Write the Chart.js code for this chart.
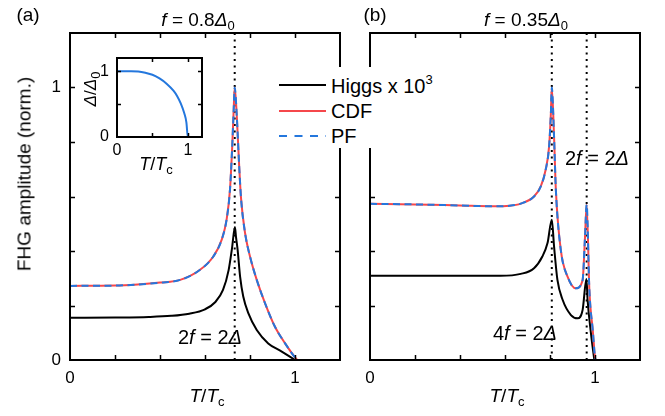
<!DOCTYPE html>
<html>
<head>
<meta charset="utf-8">
<script src="https://cdn.jsdelivr.net/npm/chart.js@4.4.1/dist/chart.umd.min.js"></script>
<style>
  body { margin: 0; background: #fff; }
  #fig { position: relative; width: 665px; height: 416px; overflow: hidden; font-family: "Liberation Sans", Arial, sans-serif; color: #000; }
  #fig canvas { position: absolute; left: 0; top: 0; }
  .txt { position: absolute; transform: translate(-50%, -50%); white-space: nowrap; font-size: 19px; line-height: 1; }
  .esq { transform: translate(0, -50%); }
  .rot { transform: translate(-50%, -50%) rotate(-90deg); }
  .txt sub { font-size: 13px; vertical-align: -4px; line-height: 0; }
  .txt sup { font-size: 13px; vertical-align: 9px; line-height: 0; }
  #legenda { position: absolute; left: 272px; top: 67px; width: 175px; height: 81px; background: #fff; }
</style>
</head>
<body>
<div id="fig">
  <canvas id="painelA" width="665" height="416"></canvas>
  <canvas id="painelB" width="665" height="416"></canvas>
  <canvas id="inset" width="665" height="416"></canvas>

  <div id="legenda"></div>
  <svg style="position:absolute;left:0;top:0" width="665" height="416">
    <line x1="279" y1="85" x2="326" y2="85" stroke="#000" stroke-width="2"/>
    <line x1="279" y1="111" x2="326" y2="111" stroke="#f5474b" stroke-width="2"/>
    <line x1="279" y1="136" x2="326" y2="136" stroke="#2477dd" stroke-width="2" stroke-dasharray="8 7.5"/>
  </svg>
  <div class="txt esq" style="left:331px;top:86px;font-size:20px">Higgs x 10<sup>3</sup></div>
  <div class="txt esq" style="left:331px;top:111px;font-size:20px">CDF</div>
  <div class="txt esq" style="left:331px;top:136px;font-size:20px">PF</div>

  <div class="txt" style="left:28px;top:14px">(a)</div>
  <div class="txt" style="left:198px;top:19px"><i>f</i> = 0.8<i>Δ</i><sub>0</sub></div>
  <div class="txt" style="left:375px;top:14px">(b)</div>
  <div class="txt" style="left:526px;top:19px"><i>f</i> = 0.35<i>Δ</i><sub>0</sub></div>

  <div class="txt rot" style="left:24px;top:174px">FHG amplitude (norm.)</div>

  <div class="txt" style="left:210px;top:337px;font-size:20px">2<i>f</i> = 2<i>Δ</i></div>
  <div class="txt" style="left:525px;top:333px;font-size:20px">4<i>f</i> = 2<i>Δ</i></div>
  <div class="txt" style="left:597px;top:158px;font-size:20px">2<i>f</i> = 2<i>Δ</i></div>

  <div class="txt" style="left:207px;top:395px"><i>T</i>/<i>T</i><sub>c</sub></div>
  <div class="txt" style="left:507px;top:395px"><i>T</i>/<i>T</i><sub>c</sub></div>

  <div class="txt" style="left:156px;top:164px;font-size:18px"><i>T</i>/<i>T</i><sub>c</sub></div>
  <div class="txt rot" style="left:90px;top:89px;font-size:17px"><i>Δ</i>/<i>Δ</i><sub>0</sub></div>
</div>

<script>
// painel (a): f = 0.8 Δ0
const tHiggsA = [0, 0.2, 0.35, 0.45, 0.53, 0.6, 0.645, 0.68, 0.705, 0.72, 0.733, 0.738, 0.745, 0.756, 0.77, 0.793, 0.83, 0.881, 0.941, 1.0];
const higgsA = [0.155, 0.156, 0.158, 0.162, 0.17, 0.186, 0.212, 0.257, 0.33, 0.41, 0.488, 0.45, 0.404, 0.306, 0.233, 0.171, 0.11, 0.061, 0.031, 0];
const tCdfA = [0, 0.2, 0.3, 0.4, 0.49, 0.578, 0.637, 0.674, 0.696, 0.711, 0.721, 0.727, 0.732, 0.741, 0.752, 0.76, 0.778, 0.8, 0.83, 0.867, 0.911, 0.956, 1.0, 1.012, 1.08];
const cdfA = [0.272, 0.273, 0.277, 0.284, 0.294, 0.331, 0.38, 0.441, 0.515, 0.625, 0.784, 0.907, 1.0, 0.9, 0.71, 0.595, 0.466, 0.38, 0.294, 0.208, 0.122, 0.061, 0.01, 0, 0];
const pfA = cdfA;
const linhasA = [0.732];

// painel (b): f = 0.35 Δ0
const tHiggsB = [0, 0.3, 0.58, 0.67, 0.729, 0.766, 0.789, 0.808, 0.818, 0.833, 0.856, 0.893, 0.923, 0.945, 0.962, 0.967, 0.982, 0.997];
const higgsB = [0.309, 0.309, 0.309, 0.316, 0.337, 0.38, 0.429, 0.515, 0.417, 0.294, 0.221, 0.165, 0.153, 0.184, 0.297, 0.221, 0.098, 0];
const tCdfB = [0, 0.2, 0.4, 0.55, 0.62, 0.67, 0.729, 0.759, 0.781, 0.796, 0.804, 0.808, 0.818, 0.826, 0.848, 0.878, 0.915, 0.945, 0.955, 0.963, 0.975, 0.99, 1.003, 1.08];
const cdfB = [0.573, 0.571, 0.567, 0.564, 0.566, 0.574, 0.6, 0.637, 0.699, 0.784, 0.907, 1.0, 0.82, 0.625, 0.404, 0.306, 0.263, 0.294, 0.441, 0.57, 0.257, 0.11, 0, 0];
const pfB = cdfB;
const linhasB = [0.808, 0.963];

// inset: gap Δ/Δ0
const tGap = [0, 0.2, 0.3, 0.4, 0.5, 0.6, 0.7, 0.8, 0.85, 0.9, 0.95, 0.98, 1.0, 1.07];
const gap = [1, 1, 0.995, 0.975, 0.945, 0.89, 0.81, 0.7, 0.62, 0.51, 0.36, 0.22, 0, 0];

const ticksPainel = [0, 0.2, 0.4, 0.6, 0.8, 1, 1.2];
const ticksInset = [0, 0.5, 1, 1.2];
const rotulosX = [0, 1];
const rotulosY = [0, 1];

const preto = "#000";
const vermelho = "#f5474b";
const azul = "#2477dd";
const fonte = "'Liberation Sans', Arial, sans-serif";

Chart.defaults.font.family = fonte;
Chart.defaults.color = "#000";

function pontos(xs, ys) {
  return xs.map((x, i) => ({ x, y: ys[i] }));
}

function curva(xs, ys, cor, tracejado) {
  return {
    data: pontos(xs, ys),
    borderColor: cor,
    borderWidth: 2,
    borderDash: tracejado ? [7, 4.5] : [],
    pointRadius: 0,
    cubicInterpolationMode: "monotone",
    fill: false
  };
}

function pontilhada(x) {
  return {
    data: [{ x, y: 0 }, { x, y: 1.2 }],
    borderColor: preto,
    borderWidth: 2,
    borderDash: [2, 4.5],
    pointRadius: 0,
    fill: false
  };
}

function rotulo(lista) {
  return v => (lista.some(r => Math.abs(r - v) < 1e-6) ? String(Math.round(v)) : "");
}

// moldura com ticks para dentro nos quatro lados
const moldura = {
  id: "moldura",
  afterDatasetsDraw(chart) {
    const { ctx, chartArea: a, scales } = chart;
    const op = chart.options.plugins.moldura;
    const len = op.tick;
    ctx.save();
    ctx.strokeStyle = preto;
    ctx.lineWidth = 2;
    ctx.strokeRect(a.left, a.top, a.right - a.left, a.bottom - a.top);
    ctx.lineWidth = 1.5;
    ctx.beginPath();
    scales.x.ticks.forEach(t => {
      if (t.value <= scales.x.min || t.value >= scales.x.max) return;
      const px = Math.round(scales.x.getPixelForValue(t.value)) + 0.5;
      ctx.moveTo(px, a.bottom); ctx.lineTo(px, a.bottom - len);
      ctx.moveTo(px, a.top); ctx.lineTo(px, a.top + len);
    });
    scales.y.ticks.forEach(t => {
      if (t.value <= scales.y.min || t.value >= scales.y.max) return;
      const py = Math.round(scales.y.getPixelForValue(t.value)) + 0.5;
      ctx.moveTo(a.left, py); ctx.lineTo(a.left + len, py);
      ctx.moveTo(a.right, py); ctx.lineTo(a.right - len, py);
    });
    ctx.stroke();

    // rótulos do eixo y escritos aqui no inset
    if (op.yTexto) {
      ctx.fillStyle = preto;
      ctx.font = op.fonte + "px " + fonte;
      ctx.textAlign = "right";
      ctx.textBaseline = "middle";
      rotulosY.forEach(v => {
        ctx.fillText(String(v), a.left - op.yPad, scales.y.getPixelForValue(v));
      });
    }
    ctx.restore();
  }
};

function painel(id, area, datasets, cfg) {
  return new Chart(document.getElementById(id), {
    type: "line",
    data: { datasets },
    plugins: [moldura],
    options: {
      responsive: false,
      animation: false,
      events: [],
      layout: {
        padding: {
          left: area.left - cfg.yLarg,
          top: area.top,
          right: 665 - area.right,
          bottom: 416 - area.bottom - cfg.xAlt
        }
      },
      plugins: {
        legend: { display: false },
        tooltip: { enabled: false },
        moldura: { tick: cfg.tick, yTexto: cfg.yTexto, yPad: cfg.yPad, fonte: cfg.fonte }
      },
      scales: {
        x: {
          type: "linear",
          min: 0,
          max: 1.2,
          grid: { display: false, drawTicks: false },
          border: { display: false },
          afterBuildTicks: s => { s.ticks = cfg.ticks.map(v => ({ value: v })); },
          ticks: {
            autoSkip: false,
            maxRotation: 0,
            padding: cfg.xPad,
            font: { size: cfg.fonte },
            callback: rotulo(rotulosX)
          },
          afterFit: s => { s.height = cfg.xAlt; }
        },
        y: {
          min: 0,
          max: 1.2,
          grid: { display: false, drawTicks: false },
          border: { display: false },
          afterBuildTicks: s => { s.ticks = cfg.ticks.map(v => ({ value: v })); },
          ticks: {
            display: cfg.yRotulos,
            autoSkip: false,
            padding: cfg.yPad,
            font: { size: cfg.fonte },
            callback: rotulo(rotulosY)
          },
          afterFit: s => { s.width = cfg.yLarg; }
        }
      }
    }
  });
}

painel("painelA", { left: 70, top: 33, right: 340, bottom: 360 }, [
  curva(tCdfA, pfA, azul, true),
  curva(tCdfA, cdfA, vermelho, false),
  curva(tHiggsA, higgsA, preto, false),
  ...linhasA.map(pontilhada)
], { ticks: ticksPainel, yLarg: 70, xAlt: 56, xPad: 8, yPad: 9, fonte: 17, tick: 5, yRotulos: true, yTexto: false });

painel("painelB", { left: 370, top: 33, right: 640, bottom: 360 }, [
  curva(tCdfB, pfB, azul, true),
  curva(tCdfB, cdfB, vermelho, false),
  curva(tHiggsB, higgsB, preto, false),
  ...linhasB.map(pontilhada)
], { ticks: ticksPainel, yLarg: 0, xAlt: 56, xPad: 8, yPad: 9, fonte: 17, tick: 5, yRotulos: false, yTexto: false });

painel("inset", { left: 117, top: 58, right: 202, bottom: 137 }, [
  curva(tGap, gap, azul, false)
], { ticks: ticksInset, yLarg: 30, xAlt: 22, xPad: 4, yPad: 8, fonte: 16, tick: 4, yRotulos: false, yTexto: true });
</script>
</body>
</html>
